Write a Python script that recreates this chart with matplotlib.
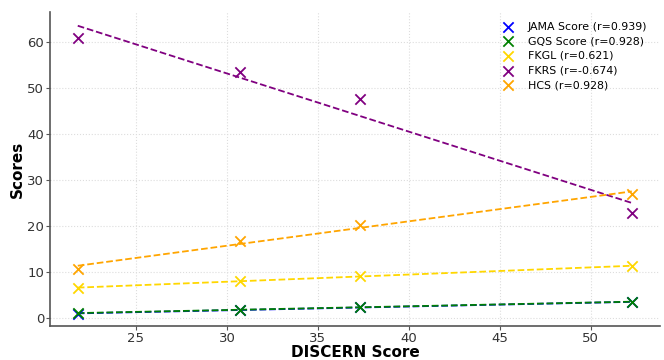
import numpy as np
import matplotlib
matplotlib.use("Agg")
import matplotlib.pyplot as plt

discern = [21.8, 30.7, 37.3, 52.25]
jama = [1.0, 1.8, 2.5, 3.5]
gqs = [1.2, 1.7, 2.5, 3.6]
fkgl = [6.5, 8.2, 9.2, 11.3]
fkrs = [60.8, 53.5, 47.6, 22.8]
hcs = [10.6, 16.8, 20.3, 27.0]

labels = ["JAMA Score (r=0.939)", "GQS Score (r=0.928)", "FKGL (r=0.621)",
          "FKRS (r=-0.674)", "HCS (r=0.928)"]
series = [jama, gqs, fkgl, fkrs, hcs]
colors = ["blue", "green", "gold", "purple", "orange"]

fig = plt.figure(figsize=(6.64, 3.6), dpi=100)
ax = fig.add_axes([0.076, 0.094, 0.918, 0.873])

x = np.array(discern)
for ys, c, lab in zip(series, colors, labels):
    ax.scatter(x, ys, marker="x", color=c, s=55, linewidths=1.3, label=lab, zorder=3)
    k, b = np.polyfit(x, ys, 1)
    xx = np.array([x.min(), x.max()])
    ax.plot(xx, k * xx + b, color=c, linestyle="--", linewidth=1.3, zorder=2)

ax.set_xlim(20.3, 53.8)
ax.set_ylim(-1.7, 66.5)
ax.set_xticks([25, 30, 35, 40, 45, 50])
ax.set_yticks([0, 10, 20, 30, 40, 50, 60])
ax.grid(True, color="#dddddd", linestyle=":", linewidth=0.8)
for s in ["top", "right"]:
    ax.spines[s].set_visible(False)
for s in ["left", "bottom"]:
    ax.spines[s].set_color("#555555")
    ax.spines[s].set_linewidth(1.2)
ax.tick_params(colors="#333333", labelsize=9.5, length=3, color="#555555", pad=1.5)
ax.set_xlabel("DISCERN Score", fontsize=11, fontweight="bold", labelpad=0)
ax.set_ylabel("Scores", fontsize=11, fontweight="bold", labelpad=2)
ax.legend(loc="upper right", frameon=False, fontsize=7.9, labelspacing=0.42,
          handletextpad=0.8, bbox_to_anchor=(0.995, 1.0))

fig.savefig("out.png", dpi=100)
